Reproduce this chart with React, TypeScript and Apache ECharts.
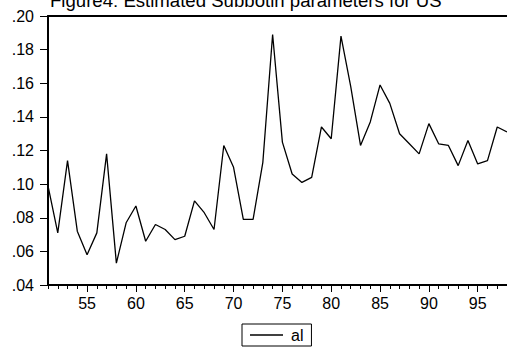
import React, { useEffect, useRef } from "react";
import * as echarts from "echarts";

// Years (two-digit, 1951–1998) and the estimated "al" parameter for each year
const years: number[] = [
  51, 52, 53, 54, 55, 56, 57, 58, 59, 60, 61, 62, 63, 64, 65, 66, 67, 68, 69, 70,
  71, 72, 73, 74, 75, 76, 77, 78, 79, 80, 81, 82, 83, 84, 85, 86, 87, 88, 89, 90,
  91, 92, 93, 94, 95, 96, 97, 98,
];
const alValues: number[] = [
  0.099, 0.071, 0.114, 0.072, 0.058, 0.071, 0.118, 0.053, 0.077, 0.087,
  0.066, 0.076, 0.073, 0.067, 0.069, 0.090, 0.083, 0.073, 0.123, 0.110,
  0.079, 0.079, 0.113, 0.189, 0.125, 0.106, 0.101, 0.104, 0.134, 0.127,
  0.188, 0.158, 0.123, 0.137, 0.159, 0.148, 0.130, 0.124, 0.118, 0.136,
  0.124, 0.123, 0.111, 0.126, 0.112, 0.114, 0.134, 0.131,
];
const majorYears: number[] = [55, 60, 65, 70, 75, 80, 85, 90, 95];
const titleText = "Figure4: Estimated Subbotin parameters for US";
const seriesName = "al";

const FONT = "'Liberation Sans', Arial, sans-serif";

export default function App() {
  const ref = useRef<HTMLDivElement>(null);

  useEffect(() => {
    if (!ref.current) return;
    const chart = echarts.init(ref.current, undefined, { renderer: "svg" });
    const xMin = years[0];
    const xMax = years[years.length - 1];

    chart.setOption({
      animation: false,
      backgroundColor: "#ffffff",
      title: {
        text: titleText,
        left: 50,
        top: -9,
        padding: 0,
        textStyle: { fontFamily: FONT, fontSize: 18.6, fontWeight: "normal", color: "#000" },
      },
      grid: { left: 48, top: 16, width: 459, height: 269, containLabel: false },
      legend: {
        data: [seriesName],
        left: 242,
        top: 324,
        padding: [3, 8, 3, 8],
        borderColor: "#000",
        borderWidth: 1,
        borderRadius: 0,
        icon: "rect",
        itemWidth: 33,
        itemHeight: 1.4,
        itemGap: 0,
        itemStyle: { color: "#000" },
        textStyle: { fontFamily: FONT, fontSize: 16, color: "#000", padding: [0, 0, 0, 3] },
      },
      xAxis: [
        {
          type: "value",
          position: "bottom",
          min: xMin,
          max: xMax,
          axisLine: { show: true, lineStyle: { color: "#000", width: 2 } },
          axisTick: { show: true, length: 4, customValues: years, lineStyle: { color: "#000", width: 1 } },
          axisLabel: {
            show: true,
            customValues: majorYears,
            margin: 10,
            fontFamily: FONT,
            fontSize: 16,
            color: "#000",
          },
          splitLine: { show: false },
        },
        {
          type: "value",
          position: "bottom",
          min: xMin,
          max: xMax,
          axisLine: { show: false },
          axisTick: { show: true, length: 7, customValues: majorYears, lineStyle: { color: "#000", width: 1 } },
          axisLabel: { show: false },
          splitLine: { show: false },
        },
        {
          type: "value",
          position: "top",
          min: xMin,
          max: xMax,
          axisLine: { show: true, lineStyle: { color: "#000", width: 2 } },
          axisTick: { show: false },
          axisLabel: { show: false },
          splitLine: { show: false },
        },
      ],
      yAxis: {
        type: "value",
        min: 0.04,
        max: 0.2,
        interval: 0.02,
        axisLine: { show: true, lineStyle: { color: "#000", width: 2 } },
        axisTick: { show: true, length: 8, lineStyle: { color: "#000", width: 1 } },
        axisLabel: {
          margin: 14,
          fontFamily: FONT,
          fontSize: 16,
          color: "#000",
          formatter: (v: number) => v.toFixed(2).replace(/^0/, ""),
        },
        splitLine: { show: false },
      },
      series: [
        {
          name: seriesName,
          type: "line",
          xAxisIndex: 0,
          data: years.map((y, i) => [y, alValues[i]]),
          symbol: "none",
          color: "#000",
          lineStyle: { color: "#000", width: 1.3 },
        },
      ],
    });

    return () => chart.dispose();
  }, []);

  return (
    <div
      ref={ref}
      style={{ position: "absolute", left: 0, top: 0, width: 507, height: 354, background: "#fff" }}
    />
  );
}
